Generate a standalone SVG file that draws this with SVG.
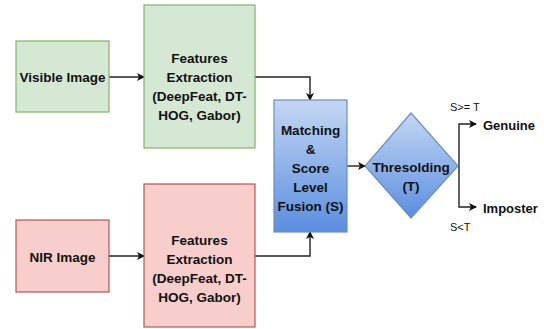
<svg xmlns="http://www.w3.org/2000/svg" width="544" height="329" viewBox="0 0 544 329">
<defs>
<linearGradient id="blue" x1="0" y1="0" x2="0" y2="1">
<stop offset="0" stop-color="#c3d7f3"/>
<stop offset="1" stop-color="#5a8ee0"/>
</linearGradient>
<marker id="arr" markerWidth="8" markerHeight="8" refX="7" refY="4" orient="auto" markerUnits="userSpaceOnUse">
<path d="M0,0 L8,4 L0,8 L2,4 Z" fill="#111"/>
</marker>
<style>
text{font-family:"Liberation Sans",Arial,sans-serif;font-weight:bold;font-size:13.5px;fill:#111;text-anchor:middle;dominant-baseline:central}
.g{fill:#d5e8d4;stroke:#82b366;stroke-width:1.2}
.r{fill:#f8cecc;stroke:#b85450;stroke-width:1.2}
.b{fill:url(#blue);stroke:#6c8ebf;stroke-width:1.2}
.c{fill:none;stroke:#222;stroke-width:1.4;marker-end:url(#arr)}
.s{font-size:11px;font-weight:normal;text-anchor:start}
.o{font-size:13px;text-anchor:start}
</style>
</defs>
<rect width="544" height="329" fill="#fff"/>
<g id="connectors">
<path class="c" d="M109,77 H144"/>
<path class="c" d="M109,256 H144"/>
<path class="c" d="M255,77 H310 V100"/>
<path class="c" d="M255,256 H310 V232"/>
<path class="c" d="M347,166 H365"/>
<path class="c" d="M459,166 V124 H476"/>
<path class="c" d="M459,166 V207 H476"/>
</g>
<g id="visible">
<rect class="g" x="16" y="41" width="93" height="71"/>
<text x="62.5" y="77">Visible Image</text>
</g>
<g id="fe1">
<rect class="g" x="144" y="5" width="111" height="143"/>
<text x="199.5" y="58">Features</text>
<text x="199.5" y="77">Extraction</text>
<text x="199.5" y="96">(DeepFeat, DT-</text>
<text x="199.5" y="115">HOG, Gabor)</text>
</g>
<g id="nir">
<rect class="r" x="16" y="220" width="93" height="72"/>
<text x="62.5" y="257">NIR Image</text>
</g>
<g id="fe2">
<rect class="r" x="144" y="184" width="111" height="143"/>
<text x="199.5" y="240">Features</text>
<text x="199.5" y="259">Extraction</text>
<text x="199.5" y="278">(DeepFeat, DT-</text>
<text x="199.5" y="297">HOG, Gabor)</text>
</g>
<g id="fusion">
<rect class="b" x="274" y="100" width="73" height="132"/>
<text x="310.5" y="130">Matching</text>
<text x="310.5" y="149">&amp;</text>
<text x="310.5" y="168">Score</text>
<text x="310.5" y="187">Level</text>
<text x="310.5" y="206">Fusion (S)</text>
</g>
<g id="threshold">
<polygon class="b" points="411,113 458,166 411,218 365,166"/>
<text x="411" y="167">Thresolding</text>
<text x="411" y="186">(T)</text>
</g>
<g id="genuine">
<text class="o" x="483" y="125">Genuine</text>
</g>
<g id="imposter">
<text class="o" x="483" y="208">Imposter</text>
</g>
<g id="labels">
<text class="s" x="450" y="107">S&gt;= T</text>
<text class="s" x="450" y="227">S&lt;T</text>
</g>
</svg>
